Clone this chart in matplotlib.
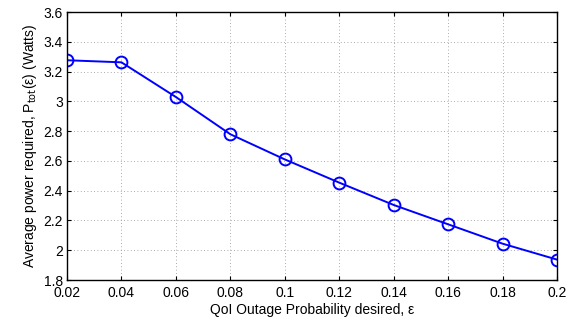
import matplotlib
matplotlib.use("Agg")
import matplotlib.pyplot as plt

eps = [0.02, 0.04, 0.06, 0.08, 0.10, 0.12, 0.14, 0.16, 0.18, 0.20]
power = [3.276, 3.262, 3.029, 2.779, 2.610, 2.454, 2.304, 2.174, 2.044, 1.937]
xticks = [0.02, 0.04, 0.06, 0.08, 0.1, 0.12, 0.14, 0.16, 0.18, 0.2]
xticklabels = ["0.02", "0.04", "0.06", "0.08", "0.1", "0.12", "0.14", "0.16", "0.18", "0.2"]
yticks = [1.8, 2.0, 2.2, 2.4, 2.6, 2.8, 3.0, 3.2, 3.4, 3.6]
yticklabels = ["1.8", "2", "2.2", "2.4", "2.6", "2.8", "3", "3.2", "3.4", "3.6"]

plt.rcParams["font.family"] = ["Liberation Sans", "DejaVu Sans"]
plt.rcParams["font.size"] = 10

fig = plt.figure(figsize=(5.74, 3.2), dpi=100)
ax = fig.add_axes([0.1167, 0.125, 0.8537, 0.8375])

ax.plot(eps, power, color="#0000ff", lw=1.4, marker="o", markersize=8.5,
        markerfacecolor="none", markeredgecolor="#0000ff", markeredgewidth=1.4)

ax.set_xlim(0.02, 0.2)
ax.set_ylim(1.8, 3.6)
ax.set_xticks(xticks)
ax.set_xticklabels(xticklabels)
ax.set_yticks(yticks)
ax.set_yticklabels(yticklabels)
ax.tick_params(direction="in", top=True, right=True, length=3, width=0.8)
ax.tick_params(axis="x", pad=4.5)
ax.tick_params(axis="y", pad=3)
ax.grid(True, color="#909090", linestyle=(0, (1, 3)), linewidth=0.6)
for s in ax.spines.values():
    s.set_linewidth(1.0)

ax.set_xlabel("QoI Outage Probability desired, \u03b5", labelpad=2)
ax.set_ylabel("Average power required, P$_{\\mathrm{tot}}$(\u03b5) (Watts)", labelpad=3)

fig.savefig("out.png", dpi=100)
